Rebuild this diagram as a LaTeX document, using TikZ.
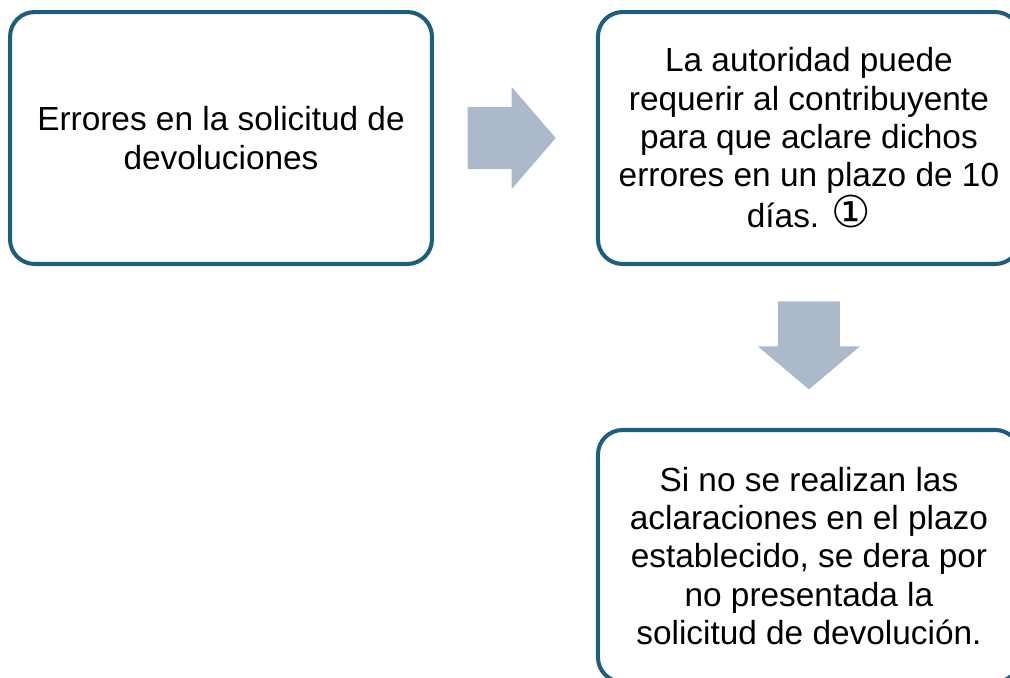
\documentclass[tikz,border=0pt]{standalone}
\usepackage{fontspec}
\setmainfont{Liberation Sans}
\newfontfamily\simbolos{DejaVu Sans}
\usetikzlibrary{calc,positioning}
\definecolor{Borde}{HTML}{1B5E7E}
\definecolor{Flecha}{HTML}{ACB9CA}
\tikzset{
  caja/.style={
    rounded corners=14pt, draw=Borde, line width=2.3pt, fill=white,
    minimum width=8.44cm, minimum height=5.04cm, align=center,
    font=\fontsize{19}{21.8}\selectfont
  },
  flecha/.style={fill=Flecha, draw=none}
}

\begin{document}
\begin{tikzpicture}[x=0.02cm,y=-0.02cm]
    \path[use as bounding box] (0,0) rectangle (1010,677);
    \clip (0,0) rectangle (1010,677);
    \node[caja] (errores) at (221,138) {Errores en la solicitud de\\devoluciones};
    \node[caja,right=3.24cm of errores] (requerir) {La autoridad puede\\requerir al contribuyente\\para que aclare dichos\\errores en un plazo de 10\\días. {\simbolos\fontsize{25}{21.8}\selectfont ①}};
    \node[caja,below=3.24cm of requerir] (presentada) {Si no se realizan las\\aclaraciones en el plazo\\establecido, se dera por\\no presentada la\\solicitud de devolución.};
    % flechas de bloque entre cajas
    \coordinate (f1) at ($(errores.east)!0.48!(requerir.west)$);
    \coordinate (f2) at ($(requerir.south)!0.49!(presentada.north)$);
    \fill[flecha] ($(f1)+(-44,-31)$) -- ($(f1)+(0,-31)$) -- ($(f1)+(0,-51)$)
      -- ($(f1)+(44,0)$) -- ($(f1)+(0,51)$) -- ($(f1)+(0,31)$)
      -- ($(f1)+(-44,31)$) -- cycle;
    \fill[flecha] ($(f2)+(-31,-44)$) -- ($(f2)+(31,-44)$) -- ($(f2)+(31,1)$)
      -- ($(f2)+(51,1)$) -- ($(f2)+(0,44)$) -- ($(f2)+(-51,1)$)
      -- ($(f2)+(-31,1)$) -- cycle;
  \end{tikzpicture}
\end{document}
